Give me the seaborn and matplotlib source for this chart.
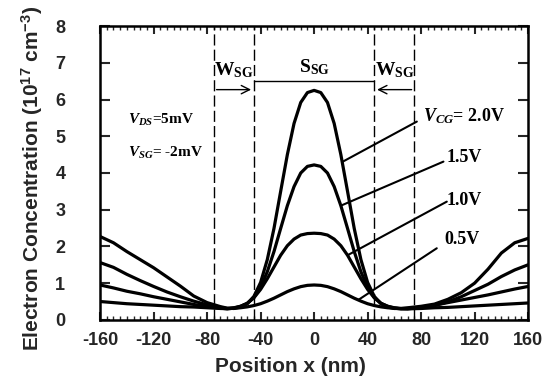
import numpy as np
import pandas as pd
import matplotlib
matplotlib.use("Agg")
import matplotlib.pyplot as plt
import seaborn as sns
from matplotlib.ticker import MultipleLocator

# ---------------- data ----------------
x_nm = [-160, -150, -140, -130, -120, -110, -100, -90, -80, -70, -65, -60, -55, -50,
        -45, -40, -35, -30, -25, -20, -15, -10, -5, 0, 5, 10, 15, 20, 25, 30, 35, 40,
        45, 50, 55, 60, 65, 70, 80, 90, 100, 110, 120, 130, 140, 150, 160]

n_20 = [2.27, 2.10, 1.86, 1.64, 1.42, 1.17, 0.92, 0.65, 0.47, 0.36, 0.32, 0.31, 0.35, 0.44,
        0.64, 1.02, 1.64, 2.49, 3.50, 4.50, 5.35, 5.92, 6.19, 6.25, 6.19, 5.92, 5.35, 4.50,
        3.50, 2.49, 1.64, 1.02, 0.64, 0.44, 0.35, 0.31, 0.31, 0.33, 0.37, 0.43, 0.56, 0.74,
        1.00, 1.38, 1.82, 2.10, 2.22]
n_15 = [1.56, 1.43, 1.24, 1.07, 0.91, 0.76, 0.63, 0.51, 0.41, 0.34, 0.31, 0.33, 0.37, 0.45,
        0.61, 0.89, 1.31, 1.86, 2.49, 3.11, 3.63, 4.00, 4.18, 4.22, 4.18, 4.00, 3.63, 3.11,
        2.49, 1.86, 1.31, 0.89, 0.61, 0.45, 0.37, 0.33, 0.31, 0.31, 0.34, 0.39, 0.49, 0.63,
        0.80, 0.97, 1.18, 1.36, 1.50]
n_10 = [0.95, 0.87, 0.78, 0.71, 0.63, 0.56, 0.49, 0.42, 0.36, 0.32, 0.30, 0.32, 0.37, 0.45,
        0.60, 0.83, 1.12, 1.44, 1.76, 2.02, 2.20, 2.31, 2.35, 2.36, 2.35, 2.31, 2.20, 2.02,
        1.76, 1.44, 1.12, 0.83, 0.60, 0.45, 0.37, 0.32, 0.30, 0.30, 0.34, 0.40, 0.47, 0.54,
        0.61, 0.68, 0.76, 0.84, 0.91]
n_05 = [0.50, 0.47, 0.44, 0.42, 0.40, 0.38, 0.36, 0.35, 0.33, 0.31, 0.305, 0.315, 0.33, 0.354,
        0.39, 0.44, 0.51, 0.59, 0.68, 0.77, 0.845, 0.905, 0.94, 0.95, 0.94, 0.905, 0.845, 0.77,
        0.68, 0.59, 0.51, 0.44, 0.39, 0.354, 0.33, 0.315, 0.305, 0.30, 0.31, 0.33, 0.34, 0.36,
        0.38, 0.40, 0.42, 0.44, 0.46]

vcg_labels = ["2.0V", "1.5V", "1.0V", "0.5V"]
series = [n_20, n_15, n_10, n_05]

x_ticks = [-160, -120, -80, -40, 0, 40, 80, 120, 160]
y_ticks = [0, 1, 2, 3, 4, 5, 6, 7, 8]
gate_edges = [-75, -45, 45, 75]

# ---------------- figure ----------------
sns.set_theme(style="white")
plt.rcParams["font.family"] = ["Liberation Sans", "DejaVu Sans"]
plt.rcParams["mathtext.fontset"] = "custom"
plt.rcParams["mathtext.rm"] = "Liberation Serif:bold"
plt.rcParams["mathtext.it"] = "Liberation Serif:italic:bold"
plt.rcParams["mathtext.bf"] = "Liberation Serif:bold"
plt.rcParams["mathtext.sf"] = "Liberation Sans:bold"

fig = plt.figure(figsize=(5.53, 3.84), dpi=100)
ax = fig.add_axes([0.181, 0.167, 0.774, 0.765])

df = pd.concat([pd.DataFrame({"x": x_nm, "n": s, "V": lab})
                for s, lab in zip(series, vcg_labels)], ignore_index=True)
sns.lineplot(data=df, x="x", y="n", units="V", estimator=None, color="black",
             lw=2.3, ax=ax, legend=False)

for g in gate_edges:
    ax.axvline(g, color="black", lw=1.0, dashes=(8, 3))

ax.set_xlim(-160, 160)
ax.set_ylim(0, 8)
ax.set_xticks(x_ticks)
ax.set_yticks(y_ticks)
ax.xaxis.set_minor_locator(MultipleLocator(5))
ax.set_xticklabels([str(t) for t in x_ticks])
ax.tick_params(axis="x", which="major", direction="in", length=6, width=1.5,
               top=True, bottom=True, labelsize=13, pad=9)
ax.tick_params(axis="x", which="minor", direction="in", length=3, width=1.0,
               top=True, bottom=True)
ax.tick_params(axis="y", which="major", direction="in", length=7, width=1.5,
               left=True, right=True, labelsize=13, pad=25)
for lab in ax.get_xticklabels() + ax.get_yticklabels():
    lab.set_fontweight("bold")
for sp in ax.spines.values():
    sp.set_color("black")
    sp.set_linewidth(1.8)

ax.set_xlabel("Position x (nm)", fontsize=15, fontweight="bold")
ax.xaxis.set_label_coords(0.445, -0.128)
ax.set_ylabel(r"Electron Concentration (10$^{\mathsf{17}}$ cm$^{\mathsf{-3}}$)",
              fontsize=15, fontweight="bold")
ax.yaxis.set_label_coords(-0.128, 0.48)

serif = dict(family="Liberation Serif", fontweight="bold", color="black")

# bias conditions
ax.text(-139, 5.44, r"$V_{DS}$=5mV", fontsize=11, va="center", ha="left", **serif)
ax.text(-139, 4.54, r"$V_{SG}$= -2mV", fontsize=11, va="center", ha="left", **serif)

# gate geometry annotations
ax.annotate("", xy=(-45, 6.27), xytext=(-75, 6.27),
            arrowprops=dict(arrowstyle="->", lw=1.0, color="black", mutation_scale=15))
ax.annotate("", xy=(45, 6.27), xytext=(75, 6.27),
            arrowprops=dict(arrowstyle="->", lw=1.0, color="black", mutation_scale=15))
ax.plot([-45, 45], [6.5, 6.5], color="black", lw=1.0)
ax.text(-60, 6.8, r"W$_{\mathrm{SG}}$", fontsize=14, ha="center", va="center", **serif)
ax.text(60, 6.8, r"W$_{\mathrm{SG}}$", fontsize=14, ha="center", va="center", **serif)
ax.text(0, 6.88, r"S$_{\mathrm{SG}}$", fontsize=14, ha="center", va="center", **serif)

# V_CG labels with leader lines
lead_x0 = [21, 20, 25, 33]
lead_end = [(76.8, 5.40), (96.7, 4.31), (99.2, 3.22), (91.7, 1.95)]
label_pos = [(81.5, 5.55), (99.2, 4.42), (99.2, 3.24), (97.5, 2.2)]
label_txt = [r"$V_{CG}$= 2.0V", "1.5V", "1.0V", "0.5V"]
for s, x0, (x1, y1), (tx, ty), t in zip(series, lead_x0, lead_end, label_pos, label_txt):
    y0 = np.interp(x0, x_nm, s)
    ax.plot([x0, x1], [y0, y1], color="black", lw=1.5)
    ax.text(tx, ty, t, fontsize=13, ha="left", va="center", **serif)

fig.savefig("out.png", dpi=100)
